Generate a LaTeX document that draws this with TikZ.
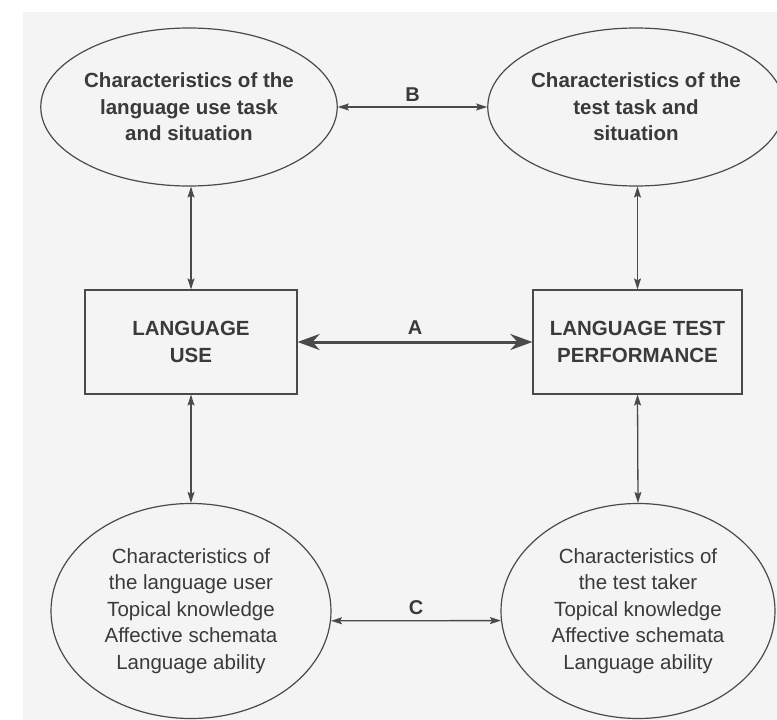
\documentclass[tikz,border=0pt]{standalone}
\usepackage{fontspec}
\setmainfont{Liberation Sans}
\usetikzlibrary{shapes.geometric,arrows.meta}
\definecolor{bgc}{HTML}{F4F4F4}
\definecolor{ink}{HTML}{3A3A3A}
\definecolor{linec}{HTML}{4A4A4A}
\begin{document}
\begin{tikzpicture}[x=1pt,y=-1pt,
  every node/.style={text=ink, align=center, inner sep=0pt},
  ell/.style={ellipse, draw=linec, line width=1.2pt},
  boxn/.style={rectangle, draw=linec, line width=1.2pt},
  bt/.style={font=\fontsize{20.5}{26.5}\selectfont\bfseries},
  rt/.style={font=\fontsize{20.5}{26.5}\selectfont},
  thin arrow/.style={draw=linec, line width=1.3pt, {Stealth[length=11pt,width=7pt,inset=2pt]}-{Stealth[length=11pt,width=7pt,inset=2pt]}},
  thick arrow/.style={draw=linec, line width=3pt, {Stealth[length=22pt,width=16pt,inset=7pt]}-{Stealth[length=22pt,width=16pt,inset=7pt]}},
  lab/.style={font=\fontsize{20}{24}\selectfont\bfseries}
]
\useasboundingbox (0,0) rectangle (777,720);
\fill[bgc] (23,12) rectangle (777,720);

\node[ell, bt, minimum width=290pt, minimum height=158pt] (tl) at (189,107)
  {Characteristics of the\\language use task\\and situation};
\node[ell, bt, minimum width=284pt, minimum height=158pt] (tr) at (636,107)
  {Characteristics of the\\test task and\\situation};
\node[boxn, bt, minimum width=212pt, minimum height=104pt] (lu) at (191,342)
  {LANGUAGE\\USE};
\node[boxn, bt, minimum width=209pt, minimum height=104pt] (lt) at (637.5,342)
  {LANGUAGE TEST\\PERFORMANCE};
\node[ell, rt, minimum width=280pt, minimum height=215pt] (bl) at (191,611)
  {Characteristics of\\the language user\\Topical knowledge\\Affective schemata\\Language ability};
\node[ell, rt, minimum width=274pt, minimum height=215pt] (br) at (638,611)
  {Characteristics of\\the test taker\\Topical knowledge\\Affective schemata\\Language ability};

\draw[thin arrow] (tl.east) -- node[lab, above=5pt] {B} (tr.west);
\draw[thick arrow] (lu.east) -- node[lab, above=6pt] {A} (lt.west);
\draw[thin arrow] (bl.-4) -- node[lab, above=5pt] {C} (br.184);

\draw[thin arrow] (lu.north |- tl.south) -- (lu.north);
\draw[thin arrow] (lt.north |- tr.south) -- (lt.north);
\draw[thin arrow] (lu.south) -- (bl.north);
\draw[thin arrow] (lt.south) -- (br.north);
\end{tikzpicture}
\end{document}
